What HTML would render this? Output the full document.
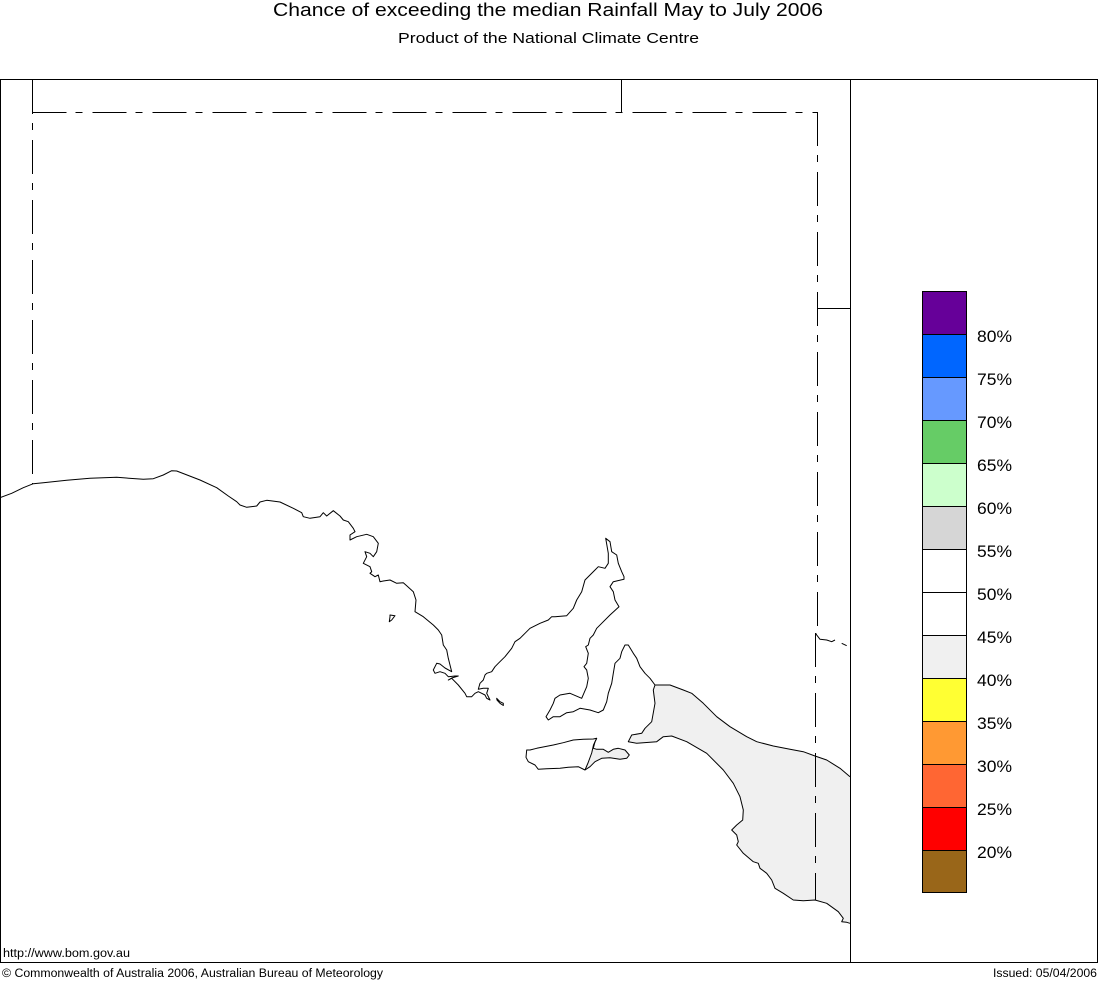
<!DOCTYPE html>
<html>
<head>
<meta charset="utf-8">
<style>
html,body{margin:0;padding:0;background:#fff;}
svg{display:block;}
text{font-family:"Liberation Sans",Arial,sans-serif;fill:#000;}
</style>
</head>
<body>
<svg width="1099" height="982" viewBox="0 0 1099 982" xmlns="http://www.w3.org/2000/svg">
<rect x="0" y="0" width="1099" height="982" fill="#fff"/>

<!-- Titles -->
<text x="273" y="16" font-size="18" textLength="550" lengthAdjust="spacingAndGlyphs">Chance of exceeding the median Rainfall May to July 2006</text>
<text x="398" y="43" font-size="15" textLength="301" lengthAdjust="spacingAndGlyphs">Product of the National Climate Centre</text>

<!-- Shaded region (40-45%) mainland -->
<polygon fill="#f0f0f0" stroke="none" points="655,685 670,685 683.3,690 691.7,693.3 703.3,703.3 716.7,716.7 730,726.7 746.7,736.7 756.7,741.7 773.3,746 790,749.3 803.3,751.7 815,756 826.7,760 840,768.3 850,776.7 850,923.3 846.7,922.3 841.7,921.7 843.3,918.3 838.3,911.7 826.7,903.3 815,900 803.3,900.7 793.3,900 783.3,893.3 775,888.3 771.7,880 766.7,873.3 760,868.3 758.3,863.3 753.3,861.7 743.3,853.3 736.7,845 738.3,841.7 736.7,835 731.7,830 736.7,825 742.7,820 743.3,810 740,796.7 733.3,783.3 723.3,770 706.7,753.3 686.7,741.7 671.7,736 663.3,736.7 656.7,741.7 636.7,743.3 628.3,741.7 631.7,735 641.7,733.3 645,728.3 651.7,721.7 655,703.3 653.3,690"/>

<!-- Shaded region Kangaroo Island east -->
<polygon fill="#f0f0f0" stroke="none" points="596.7,738.3 595,741.7 593.3,748.3 596.7,749.3 603.3,749.3 608.3,752.3 613.3,749.3 618.3,748.3 625,750 629.3,755 626.7,758.3 620,759.3 610,757.7 601.7,758.3 595,761.7 590,766.7 585,770 588,763 591.7,753 593.5,745"/>

<g fill="none" stroke="#000" stroke-width="1" stroke-linejoin="round">
<!-- Coastline -->
<polyline points="0,497.7 11.7,493.3 23.3,487.7 33.3,483.7 43.3,482.7 66.7,480.3 90,478.3 116.7,477.3 143.3,479.3 153.3,478.7 163.3,475 171.7,470.7 176.7,471 200,480 216.7,487.7 228.3,496 236.7,501.7 240,505 246.7,507.3 256.7,506 260,502 266.7,500.3 280,502 293.3,508.3 301.7,512.7 303.3,516.7 310,518.3 320,516.7 323.3,512.7 326.7,516 333.3,510.7 340,516 343.3,520 348.3,521.7 353.3,528.3 355,531.7 350,535 350,540 356.7,536.7 366.7,534.3 373.3,536.7 378.3,543.3 376.7,551.7 373.3,556.7 370,553.3 365,551.7 366.7,556.7 363.3,563.3 370,566.7 371.7,571.7 370,573.3 375,576.7 378.3,575 380,581.7 383.3,581 390,580 396.7,583.3 403.3,582.7 406.7,585.7 413.3,591.7 416,600 415,611.7 423.3,616.7 433.3,625 438.3,630 441.7,635 443.3,645 446.7,650 448.3,658.3 450,665 451.7,671.7 445,668 440,664 436.7,663.3 433.3,670 435,673.3 440,671.7 445,673.3 448.3,676.7 455,676 458.3,676 451.7,678 448.3,680 451.7,678.3 458.3,685 465,693.3 466.7,696.7 471.7,696.7 475,693.3 478.3,691.7 481.7,693.3 485,695 486.7,698.3 490,700 486.7,693.3 488.3,688.3 483.3,688.3 478.3,689.3 480,683.3 483.3,680 485,675 486.7,673.3 491.7,671.7 495,666.7 498.3,663.3 505,656.7 511.7,648.3 515,641.7 520,638.3 525,633.3 530,628.3 540,623.3 548.3,620 551.7,616.7 555,616.7 566.7,615.7 573.3,608.3 576.7,600 581.7,591.7 585,580 595,570 598.3,566.7 605,568.3 608.3,563.3 608.3,553.3 605.7,538.3 610,541.7 611.7,551.7 616.7,555 618.3,563.3 621.7,571.7 624,576.7 624,579.3 613.3,581.7 610,586.7 613.3,591.7 615,600 619,606.7 610,615 601.7,623.3 596.7,628.3 593.3,635 590,638.3 588.3,645 585.7,646.7 588.3,653.3 586.7,663.3 584,666.7 586.7,670 588.3,678.3 586.7,686.7 581.7,698.3 570,693.3 560,695 555,698.3 553.3,703.3 550,710 546,716.7 548.3,720 553.3,716.7 560,716.7 566.7,712.7 573.3,711.7 580,708.3 590,710 598.3,712.7 603.3,710 606.7,701.7 608.3,693.3 611.7,683.3 613.3,673.3 615,663.3 620,658.3 621.7,651.7 625,645 628.3,645 633.3,653.3 636.7,658.3 640,666.7 645,673.3 650,678.3 655,685 653.3,690 655,703.3 651.7,721.7 645,728.3 641.7,733.3 631.7,735 628.3,741.7 636.7,743.3 656.7,741.7 663.3,736.7 671.7,736 686.7,741.7 706.7,753.3 723.3,770 733.3,783.3 740,796.7 743.3,810 742.7,820 736.7,825 731.7,830 736.7,835 738.3,841.7 736.7,845 743.3,853.3 753.3,861.7 758.3,863.3 760,868.3 766.7,873.3 771.7,880 775,888.3 783.3,893.3 793.3,900 803.3,900.7 815,900 826.7,903.3 838.3,911.7 843.3,918.3 841.7,921.7 846.7,922.3 850,923.3"/>

<!-- Contour line -->
<polyline points="655,685 670,685 683.3,690 691.7,693.3 703.3,703.3 716.7,716.7 730,726.7 746.7,736.7 756.7,741.7 773.3,746 790,749.3 803.3,751.7 815,756 826.7,760 840,768.3 850,776.7"/>

<!-- Kangaroo Island -->
<polygon points="526.7,750 530,750 536.7,748.3 553.3,745 563.3,742.7 573.3,740 583.3,739.3 593.3,739 596.7,738.3 595,741.7 593.3,748.3 596.7,749.3 603.3,749.3 608.3,752.3 613.3,749.3 618.3,748.3 625,750 629.3,755 626.7,758.3 620,759.3 610,757.7 601.7,758.3 595,761.7 590,766.7 585,770 578.3,766.7 568.3,767.3 560,768.3 546.7,768.7 538.3,769.3 535,765 528.3,761.7 526,757.3"/>
<polyline points="596.7,738.3 593.5,745 591.7,753 588,763 585,770"/>

<!-- small islands -->
<polygon points="390,615 395,615.7 391.7,620 389.3,621.7 390,616.7"/>
<polygon points="496.7,698.3 500,701.7 503.3,703.3 503.3,705.5 500,703.3 497,700"/>

<!-- Murray border squiggle -->
<polyline points="815.7,633.3 816.7,635 820,639.3 826.7,640 831.7,641.7 835,640"/>
<polyline points="841.7,643.3 846.7,645.7"/>
</g>

<!-- State borders (dash-dot) -->
<g fill="none" stroke="#000" stroke-width="1" stroke-dasharray="34 9 7 10" shape-rendering="crispEdges">
<line x1="32.5" y1="80" x2="32.5" y2="484"/>
<line x1="32.5" y1="112.5" x2="817" y2="112.5"/>
<line x1="621.5" y1="80" x2="621.5" y2="112"/>
<line x1="817.5" y1="112" x2="817.5" y2="633"/>
<line x1="817.5" y1="308.5" x2="850" y2="308.5"/>
<line x1="815.5" y1="633" x2="815.5" y2="900"/>
</g>

<!-- Frame -->
<g fill="none" stroke="#000" stroke-width="1" shape-rendering="crispEdges">
<rect x="0.5" y="79.5" width="1097" height="883"/>
<line x1="850.5" y1="79.5" x2="850.5" y2="963"/>
</g>

<!-- Legend -->
<g stroke="#000" stroke-width="1" shape-rendering="crispEdges">
<rect x="922.5" y="291.5" width="44" height="43" fill="#660099"/>
<rect x="922.5" y="334.5" width="44" height="43" fill="#0066ff"/>
<rect x="922.5" y="377.5" width="44" height="43" fill="#6699ff"/>
<rect x="922.5" y="420.5" width="44" height="43" fill="#66cc66"/>
<rect x="922.5" y="463.5" width="44" height="43" fill="#ccffcc"/>
<rect x="922.5" y="506.5" width="44" height="43" fill="#d6d6d6"/>
<rect x="922.5" y="549.5" width="44" height="43" fill="#ffffff"/>
<rect x="922.5" y="592.5" width="44" height="43" fill="#ffffff"/>
<rect x="922.5" y="635.5" width="44" height="43" fill="#f0f0f0"/>
<rect x="922.5" y="678.5" width="44" height="43" fill="#ffff33"/>
<rect x="922.5" y="721.5" width="44" height="43" fill="#ff9933"/>
<rect x="922.5" y="764.5" width="44" height="43" fill="#ff6633"/>
<rect x="922.5" y="807.5" width="44" height="43" fill="#ff0000"/>
<rect x="922.5" y="850.5" width="44" height="42" fill="#996619"/>
</g>
<g font-size="17">
<text x="977" y="342" textLength="35" lengthAdjust="spacingAndGlyphs">80%</text>
<text x="977" y="385" textLength="35" lengthAdjust="spacingAndGlyphs">75%</text>
<text x="977" y="428" textLength="35" lengthAdjust="spacingAndGlyphs">70%</text>
<text x="977" y="471" textLength="35" lengthAdjust="spacingAndGlyphs">65%</text>
<text x="977" y="514" textLength="35" lengthAdjust="spacingAndGlyphs">60%</text>
<text x="977" y="557" textLength="35" lengthAdjust="spacingAndGlyphs">55%</text>
<text x="977" y="600" textLength="35" lengthAdjust="spacingAndGlyphs">50%</text>
<text x="977" y="643" textLength="35" lengthAdjust="spacingAndGlyphs">45%</text>
<text x="977" y="686" textLength="35" lengthAdjust="spacingAndGlyphs">40%</text>
<text x="977" y="729" textLength="35" lengthAdjust="spacingAndGlyphs">35%</text>
<text x="977" y="772" textLength="35" lengthAdjust="spacingAndGlyphs">30%</text>
<text x="977" y="815" textLength="35" lengthAdjust="spacingAndGlyphs">25%</text>
<text x="977" y="858" textLength="35" lengthAdjust="spacingAndGlyphs">20%</text>
</g>

<!-- Footer -->
<text x="3" y="957" font-size="11.5" textLength="127" lengthAdjust="spacingAndGlyphs">http://www.bom.gov.au</text>
<text x="2" y="977" font-size="11.5" textLength="381" lengthAdjust="spacingAndGlyphs">© Commonwealth of Australia 2006, Australian Bureau of Meteorology</text>
<text x="993" y="977" font-size="11.5" textLength="104" lengthAdjust="spacingAndGlyphs">Issued: 05/04/2006</text>
</svg>
</body>
</html>
